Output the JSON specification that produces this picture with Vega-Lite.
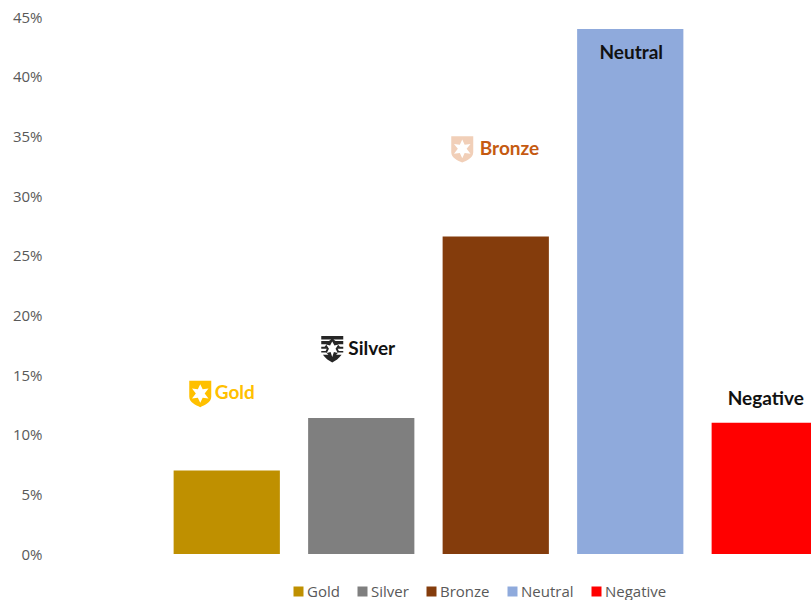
{
  "$schema": "https://vega.github.io/schema/vega-lite/v6.json",
  "width": 761,
  "height": 537,
  "autosize": "none",
  "padding": {"left": 50, "top": 17, "right": 0, "bottom": 46},
  "background": "white",
  "config": {"view": {"stroke": null}},
  "datasets": {
    "sentiment": [
      {"category": "Gold", "share": 0.07, "tagAt": 0.1345},
      {"category": "Silver", "share": 0.114, "tagAt": 0.172},
      {"category": "Bronze", "share": 0.266, "tagAt": 0.3395},
      {"category": "Neutral", "share": 0.44, "tagAt": 0.42},
      {"category": "Negative", "share": 0.11, "tagAt": 0.1295}
    ]
  },
  "data": {"name": "sentiment"},
  "encoding": {
    "x": {
      "field": "category",
      "type": "nominal",
      "sort": null,
      "axis": null,
      "scale": {
        "domain": [" ", "Gold", "Silver", "Bronze", "Neutral", "Negative"],
        "range": [-25, 782],
        "paddingInner": 0.21,
        "paddingOuter": 0.105
      }
    }
  },
  "layer": [
    {
      "mark": {"type": "bar", "clip": true},
      "encoding": {
        "y": {
          "field": "share",
          "type": "quantitative",
          "title": null,
          "scale": {"domain": [0, 0.45], "nice": false},
          "axis": {
            "values": [0, 0.05, 0.1, 0.15, 0.2, 0.25, 0.3, 0.35, 0.4, 0.45],
            "format": ".0%",
            "domain": false,
            "ticks": false,
            "grid": false,
            "labelPadding": 8,
            "labelFont": "Open Sans",
            "labelFontSize": 15,
            "labelColor": "#595959"
          }
        },
        "color": {
          "field": "category",
          "type": "nominal",
          "title": null,
          "scale": {
            "domain": ["Gold", "Silver", "Bronze", "Neutral", "Negative"],
            "range": ["#BF9000", "#7F7F7F", "#843C0C", "#8FAADC", "#FF0000"]
          },
          "legend": {
            "orient": "none",
            "legendX": 241,
            "legendY": 567,
            "direction": "horizontal",
            "columns": 5,
            "gridAlign": "none",
            "symbolType": "square",
            "symbolSize": 100,
            "symbolStrokeWidth": 0,
            "columnPadding": 15,
            "labelFont": "Open Sans",
            "labelFontSize": 15,
            "labelColor": "#595959",
            "labelOffset": 1
          }
        }
      }
    },
    {
      "transform": [{"filter": "datum.category === 'Gold'"}],
      "mark": {"type": "point", "filled": true, "color": "#FFC000", "opacity": 1, "size": 484, "xOffset": -26.5, "shape": "M-1 -1.15L1 -1.15L1 0.3C1 0.8 0.4 1.05 0 1.25C-0.4 1.05 -1 0.8 -1 0.3ZM0 -0.85L-0.22 -0.38L-0.75 -0.45L-0.4 0L-0.75 0.45L-0.22 0.38L0 0.85L0.22 0.38L0.75 0.45L0.4 0L0.75 -0.45L0.22 -0.38Z"},
      "encoding": {"y": {"field": "tagAt", "type": "quantitative"}}
    },
    {
      "transform": [{"filter": "datum.category === 'Silver'"}],
      "mark": {"type": "point", "filled": true, "color": "#262626", "opacity": 1, "size": 484, "xOffset": -29, "shape": "M-1 -1.15L1 -1.15L1 -0.85L-1 -0.85ZM-1 -0.7L-0.3 -0.7L0 -0.9L0.3 -0.7L1 -0.7L1 -0.42L0.5 -0.42L0.7 -0.18L1 -0.18L1 0L0.5 0L0.6 0.2L1 0.2L1 0.35L0.55 0.35L0.35 0.55L0.85 0.55C0.6 0.9 0.3 1.1 0 1.25C-0.3 1.1 -0.6 0.9 -0.85 0.55L-0.35 0.55L-0.55 0.35L-1 0.35L-1 0.2L-0.6 0.2L-0.5 0L-1 0L-1 -0.18L-0.7 -0.18L-0.5 -0.42L-1 -0.42ZM0 -0.65L-0.2 -0.3L-0.55 -0.38L-0.3 0L-0.5 0.38L-0.15 0.3L0 0.75L0.15 0.3L0.5 0.38L0.3 0L0.55 -0.38L0.2 -0.3Z"},
      "encoding": {"y": {"field": "tagAt", "type": "quantitative"}}
    },
    {
      "transform": [{"filter": "datum.category === 'Bronze'"}],
      "mark": {"type": "point", "filled": true, "color": "#F1CFB8", "opacity": 1, "size": 484, "xOffset": -33.5, "shape": "M-1 -1.15L1 -1.15L1 0.3C1 0.8 0.4 1.05 0 1.25C-0.4 1.05 -1 0.8 -1 0.3ZM0 -0.85L-0.22 -0.38L-0.75 -0.45L-0.4 0L-0.75 0.45L-0.22 0.38L0 0.85L0.22 0.38L0.75 0.45L0.4 0L0.75 -0.45L0.22 -0.38Z"},
      "encoding": {"y": {"field": "tagAt", "type": "quantitative"}}
    },
    {
      "transform": [{"filter": "datum.category === 'Gold'"}],
      "mark": {"type": "text", "align": "left", "baseline": "middle", "dx": -12, "font": "Lato", "fontWeight": "bold", "fontSize": 19, "color": "#FFC000"},
      "encoding": {"y": {"field": "tagAt", "type": "quantitative"}, "text": {"field": "category"}}
    },
    {
      "transform": [{"filter": "datum.category === 'Silver'"}],
      "mark": {"type": "text", "align": "left", "baseline": "middle", "dx": -13, "font": "Lato", "fontWeight": "bold", "fontSize": 19, "color": "#111111"},
      "encoding": {"y": {"field": "tagAt", "type": "quantitative"}, "text": {"field": "category"}}
    },
    {
      "transform": [{"filter": "datum.category === 'Bronze'"}],
      "mark": {"type": "text", "align": "left", "baseline": "middle", "dx": -16, "font": "Lato", "fontWeight": "bold", "fontSize": 19, "color": "#C55A11"},
      "encoding": {"y": {"field": "tagAt", "type": "quantitative"}, "text": {"field": "category"}}
    },
    {
      "transform": [{"filter": "datum.category === 'Neutral' || datum.category === 'Negative'"}],
      "mark": {"type": "text", "align": "center", "baseline": "middle", "dx": 1, "font": "Lato", "fontWeight": "bold", "fontSize": 19, "color": "#111111"},
      "encoding": {"y": {"field": "tagAt", "type": "quantitative"}, "text": {"field": "category"}}
    }
  ]
}
